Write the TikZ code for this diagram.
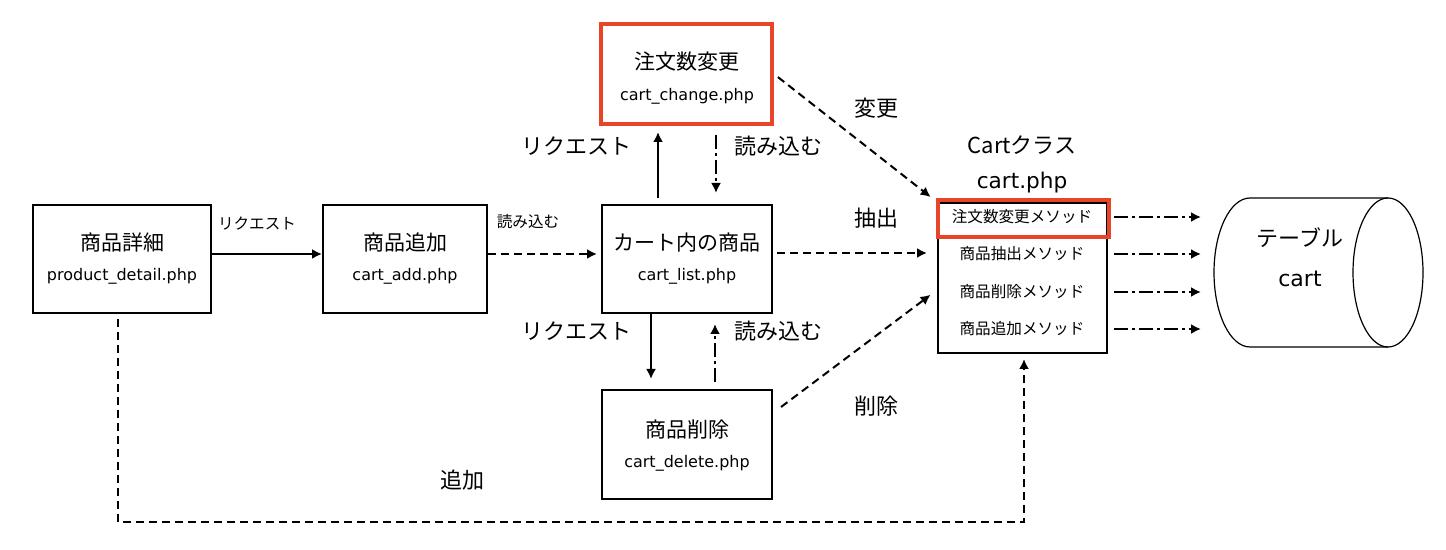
\documentclass[tikz,border=0pt]{standalone}
\usepackage{fontspec}
\setmainfont{DejaVu Sans}
\newfontfamily\jp{Noto Sans CJK JP}
\usetikzlibrary{arrows.meta}
\definecolor{markred}{RGB}{232,69,40}

\tikzset{
	box/.style={draw, line width=1pt, inner sep=0pt},
	redbox/.style={draw=markred, line width=2pt, inner sep=0pt},
	title/.style={font=\jp\fontsize{10.5}{12}\selectfont},
	file/.style={font=\fontsize{8}{10}\selectfont},
	big/.style={font=\jp\fontsize{11}{13}\selectfont},
	small/.style={font=\jp\fontsize{7.8}{9}\selectfont},
	req/.style={->, line width=1pt},
	call/.style={->, line width=1pt, dash pattern=on 4pt off 2.5pt},
	load/.style={->, line width=1pt, dash pattern=on 7pt off 2pt on 1.5pt off 2pt}
}

\begin{document}
\begin{tikzpicture}[x=0.5pt, y=-0.5pt, >={Latex[length=5pt,width=5pt]}]
	\useasboundingbox (0,0) rectangle (1446,550);

	% pages
	\node (detail) [box, minimum width=89pt, minimum height=54pt] at (122,259) {};
	\node [title] at (122,243) {商品詳細};
	\node [file] at (122,276) {product\_detail.php};

	\node (add) [box, minimum width=82pt, minimum height=54pt] at (405,259) {};
	\node [title] at (405,243) {商品追加};
	\node [file] at (405,276) {cart\_add.php};

	\node (list) [box, minimum width=85pt, minimum height=54pt] at (687,259) {};
	\node [title] at (687,243) {カート内の商品};
	\node [file] at (687,276) {cart\_list.php};

	\node (change) [redbox, minimum width=85.5pt, minimum height=50pt] at (686.5,74) {};
	\node [title] at (687,62) {注文数変更};
	\node [file] at (687,96) {cart\_change.php};

	\node (delete) [box, minimum width=85pt, minimum height=54.5pt] at (687,444.5) {};
	\node [title] at (687,430) {商品削除};
	\node [file] at (687,463) {cart\_delete.php};

	% class
	\node [big] at (1022,145) {Cart{\jp クラス}};
	\node [font=\fontsize{10.8}{13}\selectfont] at (1022,183) {cart.php};
	\node (class) [box, minimum width=84.5pt, minimum height=75pt] at (1022.5,278) {};
	\node [redbox, minimum width=85.5pt, minimum height=18.5pt] at (1023.5,218.5) {};
	\node (m1) [small] at (1022,217) {注文数変更メソッド};
	\node (m2) [small] at (1022,254) {商品抽出メソッド};
	\node (m3) [small] at (1022,292) {商品削除メソッド};
	\node (m4) [small] at (1022,329) {商品追加メソッド};

	% table
	\draw [line width=0.6pt] (1388,198) -- (1250,198) arc (90:270:18pt and 37.25pt) -- (1388,347);
	\draw [line width=0.6pt] (1388,272.5) ellipse (17.5pt and 37.25pt);
	\node (table) [big, align=center] at (1300,257) {テーブル\\[7pt]{\fontsize{11}{13}\selectfont\rmfamily cart}};

	% requests and loads
	\draw [req] (detail.east |- 0,254) -- (add.west |- 0,254);
	\node [small] at (257,224) {リクエスト};
	\draw [call, shorten >=2pt] (add.east |- 0,254) -- (list.west |- 0,254);
	\node [small] at (528,222) {読み込む};

	\draw [req, shorten <=3pt, shorten >=3pt] (658,0 |- list.north) -- (658,0 |- change.south);
	\node [big] at (576,146) {リクエスト};
	\draw [load, shorten <=4.5pt, shorten >=5.5pt] (716,0 |- change.south) -- (716,0 |- list.north);
	\node [big] at (778,146) {読み込む};

	\draw [req, shorten >=5pt] (651,0 |- list.south) -- (651,0 |- delete.north);
	\node [big] at (576,331) {リクエスト};
	\draw [load, shorten <=3.5pt, shorten >=5pt] (715,0 |- delete.north) -- (715,0 |- list.south);
	\node [big] at (778,331) {読み込む};

	% calls to the class
	\draw [call, shorten <=2.5pt, shorten >=4pt] (change.east) -- (class.north west);
	\node [big] at (876,108) {変更};
	\draw [call, shorten <=2pt, shorten >=5pt] (list.east |- 0,253) -- (class.west |- 0,253);
	\node [big] at (876,218) {抽出};
	\draw [call, shorten >=4pt] ([xshift=4pt,yshift=-9pt]delete.north east) -- (class.west |- 0,290);
	\node [big] at (876,406) {削除};
	\draw [call, shorten <=2.5pt, shorten >=2.5pt] (detail.south -| 118,0) |- (1024,522) -- (class.south -| 1024,0);
	\node [big] at (462,480) {追加};

	% methods to table
	\foreach \m in {m1, m2, m3, m4} {
		\draw [load, shorten <=3pt] (class.east |- \m) -- (1201,0 |- \m);
	};
\end{tikzpicture}
\end{document}
